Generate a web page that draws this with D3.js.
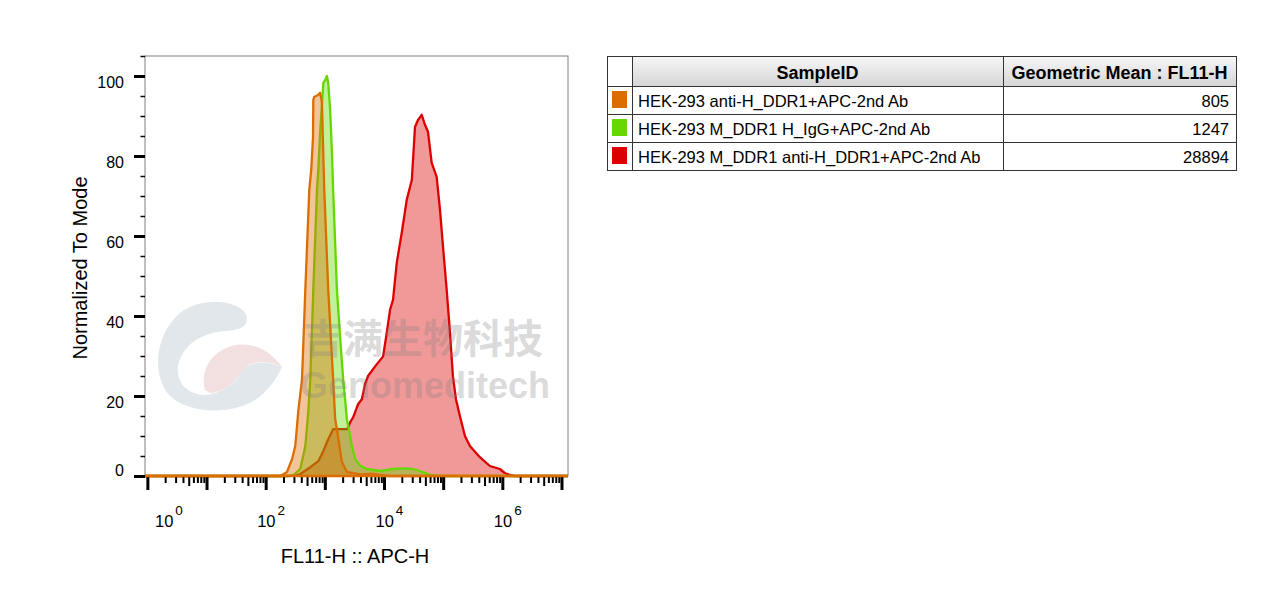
<!DOCTYPE html>
<html>
<head>
<meta charset="utf-8">
<script src="https://cdn.jsdelivr.net/npm/d3@7"></script>
<style>
body { margin: 0; background: #ffffff; }
</style>
</head>
<body>
<div id="chart"></div>
<script>
// Histogram traces: [log10(FL11-H), % of mode]
const orangeTrace = [
    [-0.04, 0], [2.25, 0], [2.36, 1.0], [2.445, 4.2], [2.5, 7.5], [2.55, 16], [2.614, 24.2],
    [2.67, 46.6], [2.737, 71.6], [2.77, 76.6], [2.8, 84.8], [2.805, 94], [2.82, 94.8],
    [2.855, 95], [2.89, 95.3], [2.92, 95.8], [2.95, 93.5], [2.973, 80.8], [2.99, 71.6],
    [3.057, 46.6], [3.14, 24.2], [3.175, 14.2], [3.204, 11.7], [3.288, 3.5], [3.373, 1.0],
    [3.6, 0.4], [3.8, 0.6], [3.93, 0.3], [4.1, 0], [7.11, 0]
];
const greenTrace = [
    [-0.04, 0], [2.38, 0], [2.47, 0.25], [2.585, 1.75], [2.67, 7.5], [2.72, 16], [2.754, 24.2],
    [2.805, 46.6], [2.867, 71.6], [2.89, 76.6], [2.92, 85.8], [2.975, 98.3], [3.007, 99],
    [3.035, 100], [3.057, 98.3], [3.09, 91.5], [3.12, 80.8], [3.14, 71.6], [3.204, 46.6],
    [3.26, 34.2], [3.31, 24.2], [3.373, 14.2], [3.395, 12.5], [3.457, 7.5], [3.513, 4.2],
    [3.6, 2.5], [3.71, 1.75], [3.934, 1.25], [4.153, 1.75], [4.32, 1.9], [4.49, 1.75],
    [4.66, 1.0], [4.78, 0.25], [4.95, 0], [7.11, 0]
];
const redTrace = [
    [-0.04, 0], [2.33, 0], [2.5, 0.1], [2.585, 0.5], [2.754, 2.2], [2.89, 3.7], [2.973, 6.2],
    [3.057, 9.2], [3.14, 11.7], [3.26, 11.7], [3.378, 11.7], [3.43, 13.5], [3.48, 14.7],
    [3.563, 18], [3.626, 19.2], [3.68, 23], [3.73, 25], [3.85, 27.4], [3.985, 29.9],
    [4.047, 35.9], [4.103, 41.6], [4.153, 44.1], [4.216, 53.4], [4.3, 60.8], [4.385, 69.1],
    [4.47, 74], [4.524, 87.3], [4.575, 89], [4.637, 90.3], [4.693, 87.8], [4.744, 86],
    [4.806, 78.3], [4.89, 74.8], [4.946, 66.6], [4.997, 57.4], [5.059, 46.6], [5.115, 35.9],
    [5.165, 24.9], [5.216, 19.2], [5.283, 15], [5.368, 10], [5.452, 7.5], [5.62, 4.7],
    [5.79, 2.5], [5.958, 1.75], [6.04, 0.75], [6.13, 0.25], [6.21, 0], [7.11, 0]
];

const sampleIds = [
    "HEK-293 anti-H_DDR1+APC-2nd Ab",
    "HEK-293 M_DDR1 H_IgG+APC-2nd Ab",
    "HEK-293 M_DDR1 anti-H_DDR1+APC-2nd Ab"
];
const geoMeans = [805, 1247, 28894];
const sampleColours = ["#dc6e00", "#66d800", "#dd0000"];
const traces = [orangeTrace, greenTrace, redTrace];

const yTickValues = [0, 20, 40, 60, 80, 100];
const xLabelDecades = [0, 2, 4, 6];
const tableHeaders = ["SampleID", "Geometric Mean : FL11-H"];

const fontFamily = "Arial, 'Liberation Sans', sans-serif";

var svg = d3
    .select("#chart")
    .append("svg")
    .attr("width", 1268)
    .attr("height", 595)
    .style("background", "#ffffff");

// Scales
var x = d3.scaleLog().domain([Math.pow(10, -0.04), Math.pow(10, 7.11)]).range([145, 568]);
var y = d3.scaleLinear().domain([0, 105]).range([476, 56]);

// Frame
svg.append("rect")
    .attr("x", 145).attr("y", 56)
    .attr("width", 423).attr("height", 420)
    .attr("fill", "none")
    .attr("stroke", "#808080")
    .attr("stroke-width", 1);

// Histograms: red first, then green, orange on top
var area = d3.area()
    .x(d => x(Math.pow(10, d[0])))
    .y0(y(0))
    .y1(d => y(d[1]));
var line = d3.line()
    .x(d => x(Math.pow(10, d[0])))
    .y(d => y(d[1]));

[2, 1, 0].forEach(function(i) {
    svg.append("path")
        .datum(traces[i])
        .attr("d", area)
        .attr("fill", sampleColours[i])
        .attr("fill-opacity", 0.4);
    svg.append("path")
        .datum(traces[i])
        .attr("d", line)
        .attr("fill", "none")
        .attr("stroke", sampleColours[i])
        .attr("stroke-width", 2.3)
        .attr("stroke-linejoin", "round");
});

// Watermark
var wm = svg.append("g").attr("pointer-events", "none");
wm.append("path")
    .attr("d", "M246,314 C236,299 200,297 180,313 C157,332 150,372 169,395 C190,416 240,416 264,393 C272,385 278,376 282,367 C268,361 252,360 243,370 C236,380 228,392 206,395 C186,395 176,381 178,366 C182,346 200,333 225,331 C240,330 250,327 246,314 Z")
    .attr("fill", "#c9d3da")
    .attr("fill-opacity", 0.55);
wm.append("path")
    .attr("d", "M205,390 C200,372 210,352 232,346 C252,341 270,350 282,367 C268,360 252,360 244,369 C236,379 228,392 210,393 Z")
    .attr("fill", "#e9c6c6")
    .attr("fill-opacity", 0.55);
wm.append("text")
    .attr("x", 303).attr("y", 353)
    .attr("font-family", "'Noto Sans CJK SC', sans-serif")
    .attr("font-weight", "bold")
    .attr("font-size", 40)
    .attr("fill", "#808080")
    .attr("fill-opacity", 0.3)
    .text("吉满生物科技");
wm.append("text")
    .attr("x", 300).attr("y", 398)
    .attr("font-family", fontFamily)
    .attr("font-weight", "bold")
    .attr("font-size", 36)
    .attr("fill", "#808080")
    .attr("fill-opacity", 0.3)
    .text("Genomeditech");

// Y axis ticks
var yMinor = d3.range(5, 106, 5).filter(v => v % 20 != 0);
var yMajorAxis = svg.append("g")
    .attr("transform", "translate(145,0)")
    .call(d3.axisLeft(y).tickValues(yTickValues).tickSize(11).tickSizeOuter(0).tickFormat(""));
yMajorAxis.select(".domain").remove();
yMajorAxis.selectAll("line").attr("stroke", "#000").attr("stroke-width", 3);

var yMinorAxis = svg.append("g")
    .attr("transform", "translate(145,0)")
    .call(d3.axisLeft(y).tickValues(yMinor).tickSize(4.5).tickSizeOuter(0).tickFormat(""));
yMinorAxis.select(".domain").remove();
yMinorAxis.selectAll("line").attr("stroke", "#000").attr("stroke-width", 1.5);

svg.selectAll(".ylabel")
    .data(yTickValues)
    .enter()
    .append("text")
    .attr("class", "ylabel")
    .attr("x", 124)
    .attr("y", d => d == 0 ? y(d) : y(d) + 11.5)
    .attr("text-anchor", "end")
    .attr("font-family", fontFamily)
    .attr("font-size", 16)
    .attr("fill", "#000")
    .text(d => d);

// X axis ticks (log decades + minors)
var xMajor = d3.range(0, 8).map(d => Math.pow(10, d));
var xMinor = [], xMid = [];
d3.range(0, 7).forEach(function(d) {
    [2, 3, 4, 6, 7, 8, 9].forEach(k => xMinor.push(k * Math.pow(10, d)));
    xMid.push(5 * Math.pow(10, d));
});

function drawXTicks(values, size, width) {
    var g = svg.append("g")
        .attr("transform", "translate(0,476)")
        .call(d3.axisBottom(x).tickValues(values).tickSize(size).tickSizeOuter(0).tickFormat(""));
    g.select(".domain").remove();
    g.selectAll("line").attr("stroke", "#000").attr("stroke-width", width);
}
drawXTicks(xMajor, 14, 3);
drawXTicks(xMid, 10, 2);
drawXTicks(xMinor, 7, 2);

// Bottom axis line
svg.append("line")
    .attr("x1", 145).attr("x2", 568)
    .attr("y1", 476.5).attr("y2", 476.5)
    .attr("stroke", "#000")
    .attr("stroke-width", 1);
// Orange baseline sits on top of everything along y=0
svg.append("line")
    .attr("x1", 145).attr("x2", 568)
    .attr("y1", y(0)).attr("y2", y(0))
    .attr("stroke", sampleColours[0])
    .attr("stroke-width", 2.5);

var xl = svg.selectAll(".xlabel")
    .data(xLabelDecades)
    .enter()
    .append("text")
    .attr("class", "xlabel")
    .attr("x", d => d == 0 ? 155 : x(Math.pow(10, d)) - 8.5)
    .attr("y", 527)
    .attr("font-family", fontFamily)
    .attr("font-size", 16.5)
    .attr("fill", "#000");
xl.append("tspan").text("10");
xl.append("tspan")
    .attr("dx", 2)
    .attr("dy", -12)
    .attr("font-size", 13.5)
    .text(d => d);

// Axis titles
svg.append("text")
    .attr("transform", "translate(87,268) rotate(-90)")
    .attr("text-anchor", "middle")
    .attr("font-family", fontFamily)
    .attr("font-size", 20)
    .attr("fill", "#000")
    .text("Normalized To Mode");
svg.append("text")
    .attr("x", 355).attr("y", 563)
    .attr("text-anchor", "middle")
    .attr("font-family", fontFamily)
    .attr("font-size", 20)
    .attr("fill", "#000")
    .text("FL11-H :: APC-H");

// Legend table
var tx = [607, 632, 1003, 1236];
var headTop = 56, headBottom = 86, rowH = 28;

var grad = svg.append("defs").append("linearGradient")
    .attr("id", "headGrad")
    .attr("x1", 0).attr("y1", 0).attr("x2", 0).attr("y2", 1);
grad.append("stop").attr("offset", "0%").attr("stop-color", "#f7f7f7");
grad.append("stop").attr("offset", "100%").attr("stop-color", "#d6d6d6");

svg.append("rect")
    .attr("x", tx[1]).attr("y", headTop)
    .attr("width", tx[3] - tx[1]).attr("height", headBottom - headTop)
    .attr("fill", "url(#headGrad)");

var table = svg.append("g");
var tableBottom = headBottom + rowH * sampleIds.length;
table.append("rect")
    .attr("x", tx[0] + 0.5).attr("y", headTop + 0.5)
    .attr("width", tx[3] - tx[0]).attr("height", tableBottom - headTop)
    .attr("fill", "none")
    .attr("stroke", "#333")
    .attr("stroke-width", 1);
[tx[1], tx[2]].forEach(function(xx) {
    table.append("line")
        .attr("x1", xx + 0.5).attr("x2", xx + 0.5)
        .attr("y1", headTop).attr("y2", tableBottom)
        .attr("stroke", "#333");
});
d3.range(0, sampleIds.length).forEach(function(i) {
    table.append("line")
        .attr("x1", tx[0]).attr("x2", tx[3])
        .attr("y1", headBottom + rowH * i + 0.5).attr("y2", headBottom + rowH * i + 0.5)
        .attr("stroke", "#333");
});

table.selectAll(".head")
    .data(tableHeaders)
    .enter()
    .append("text")
    .attr("class", "head")
    .attr("x", (d, i) => (tx[i + 1] + tx[i + 2]) / 2)
    .attr("y", 78.5)
    .attr("text-anchor", "middle")
    .attr("font-family", fontFamily)
    .attr("font-weight", "bold")
    .attr("font-size", 18)
    .attr("fill", "#000")
    .text(d => d);

var rows = table.selectAll(".row")
    .data(sampleIds)
    .enter()
    .append("g")
    .attr("class", "row")
    .attr("transform", (d, i) => "translate(0," + (headBottom + rowH * i) + ")");
rows.append("rect")
    .attr("x", 612).attr("y", 5)
    .attr("width", 15).attr("height", 17)
    .attr("fill", (d, i) => sampleColours[i]);
rows.append("text")
    .attr("x", 638).attr("y", 20.5)
    .attr("font-family", fontFamily)
    .attr("font-size", 16.5)
    .attr("fill", "#000")
    .text(d => d);
rows.append("text")
    .attr("x", 1229).attr("y", 20.5)
    .attr("text-anchor", "end")
    .attr("font-family", fontFamily)
    .attr("font-size", 16.5)
    .attr("fill", "#000")
    .text((d, i) => geoMeans[i]);
</script>
</body>
</html>
